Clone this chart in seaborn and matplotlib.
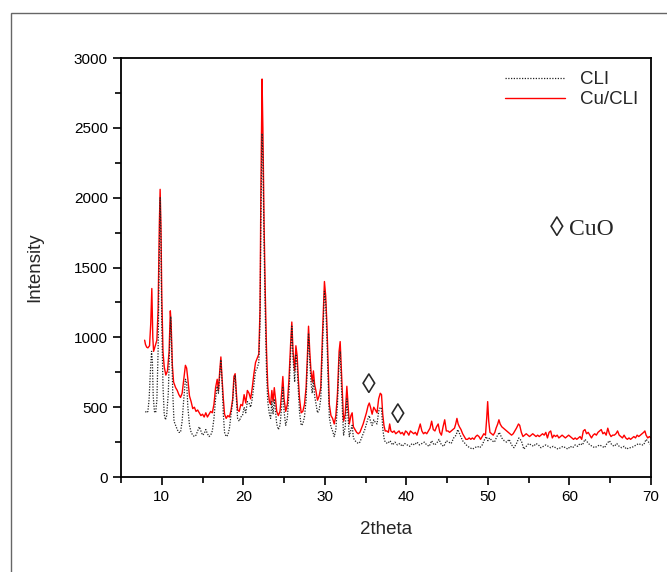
"""
XRD patterns of CLI and Cu/CLI, redrawn with seaborn.
"""

import matplotlib
matplotlib.use("Agg")
import matplotlib.pyplot as plt
from matplotlib.patches import Rectangle
from matplotlib.ticker import MultipleLocator
import pandas as pd
import seaborn as sn

# Cu/CLI pattern (red, solid)
cu_2theta = [
    7.9, 8.0, 8.15, 8.3, 8.5, 8.65, 8.78, 8.9, 9.0, 9.2, 9.4, 9.55, 9.7, 9.8, 9.9,
    10.0, 10.15, 10.3, 10.5, 10.7, 10.9, 11.05, 11.15, 11.3, 11.45, 11.7, 11.9,
    12.1, 12.3, 12.5, 12.7, 12.9, 13.05, 13.2, 13.4, 13.6, 13.8, 14.0, 14.2, 14.4,
    14.6, 14.8, 15.0, 15.2, 15.4, 15.6, 15.8, 16.0, 16.2, 16.4, 16.6, 16.8, 16.95,
    17.1, 17.25, 17.4, 17.55, 17.7, 17.9, 18.1, 18.3, 18.5, 18.7, 18.85, 19.0,
    19.15, 19.3, 19.5, 19.7, 19.9, 20.1, 20.3, 20.5, 20.7, 20.9, 21.1, 21.3, 21.5,
    21.7, 21.9, 22.05, 22.15, 22.3, 22.4, 22.55, 22.7, 22.85, 23.0, 23.2, 23.35,
    23.5, 23.65, 23.8, 23.95, 24.1, 24.3, 24.5, 24.7, 24.85, 25.0, 25.2, 25.4,
    25.6, 25.8, 25.95, 26.1, 26.3, 26.45, 26.6, 26.75, 26.9, 27.1, 27.3, 27.5,
    27.7, 27.85, 28.0, 28.15, 28.3, 28.45, 28.6, 28.75, 28.9, 29.1, 29.3, 29.5,
    29.7, 29.95, 30.1, 30.25, 30.4, 30.55, 30.75, 30.95, 31.15, 31.35, 31.55,
    31.75, 31.88, 32.0, 32.15, 32.3, 32.5, 32.7, 32.85, 33.0, 33.2, 33.35, 33.5,
    33.7, 33.9, 34.1, 34.3, 34.5, 34.7, 34.9, 35.1, 35.3, 35.45, 35.6, 35.8, 36.0,
    36.2, 36.4, 36.6, 36.8, 36.95, 37.1, 37.25, 37.4, 37.6, 37.8, 37.95, 38.1,
    38.3, 38.5, 38.7, 38.9, 39.1, 39.3, 39.5, 39.7, 39.9, 40.1, 40.3, 40.5, 40.7,
    40.9, 41.1, 41.3, 41.5, 41.7, 41.9, 42.1, 42.3, 42.5, 42.7, 42.9, 43.1, 43.3,
    43.5, 43.7, 43.9, 44.1, 44.3, 44.5, 44.7, 44.9, 45.1, 45.3, 45.5, 45.7, 45.9,
    46.05, 46.2, 46.35, 46.5, 46.7, 46.9, 47.1, 47.3, 47.5, 47.7, 47.9, 48.1, 48.3,
    48.5, 48.7, 48.9, 49.1, 49.3, 49.5, 49.7, 49.85, 49.97, 50.1, 50.25, 50.45,
    50.65, 50.85, 51.0, 51.2, 51.35, 51.5, 51.7, 51.9, 52.1, 52.3, 52.5, 52.7,
    52.9, 53.1, 53.3, 53.5, 53.75, 53.9, 54.1, 54.3, 54.5, 54.7, 54.9, 55.1, 55.3,
    55.5, 55.7, 55.9, 56.1, 56.3, 56.5, 56.7, 56.9, 57.1, 57.3, 57.5, 57.7, 57.9,
    58.1, 58.3, 58.5, 58.7, 58.9, 59.1, 59.3, 59.5, 59.7, 59.9, 60.1, 60.3, 60.5,
    60.7, 60.9, 61.1, 61.3, 61.5, 61.7, 61.9, 62.1, 62.3, 62.5, 62.7, 62.9, 63.1,
    63.3, 63.5, 63.7, 63.9, 64.1, 64.3, 64.5, 64.7, 64.9, 65.1, 65.3, 65.5, 65.7,
    65.9, 66.1, 66.3, 66.5, 66.7, 66.9, 67.1, 67.3, 67.5, 67.7, 67.9, 68.1, 68.3,
    68.5, 68.7, 68.9, 69.1, 69.25, 69.4, 69.6, 69.8, 70.0,
]
cu_intensity = [
    980, 950, 930, 925, 940, 1100, 1350, 1000, 900, 940, 980, 1200, 1800, 2060, 1800,
    1300, 900, 790, 730, 760, 900, 1190, 1100, 800, 680, 640, 620,
    590, 570, 600, 700, 800, 780, 700, 580, 540, 490, 500, 470, 480,
    460, 440, 450, 430, 460, 430, 450, 470, 460, 520, 640, 700, 620,
    750, 860, 700, 560, 450, 420, 440, 430, 480, 560, 720, 740,
    600, 480, 470, 520, 510, 590, 530, 620, 600, 560, 640, 740, 820,
    850, 880, 1200, 2000, 2850, 2500, 1800, 1300, 900, 650, 540, 520,
    620, 540, 640, 560, 470, 440, 470, 600, 720, 560, 470, 520,
    700, 950, 1110, 900, 760, 940, 870, 700, 560, 460, 470, 520,
    640, 850, 1080, 900, 760, 680, 760, 660, 620, 550, 580, 640,
    1000, 1400, 1300, 1100, 800, 520, 440, 420, 380, 440, 600,
    900, 970, 800, 600, 400, 450, 650, 520, 380, 440, 460, 360,
    340, 320, 310, 320, 350, 380, 420, 460, 510, 530, 500, 450, 500,
    480, 460, 560, 600, 590, 450, 370, 330, 330, 320, 380, 330,
    320, 330, 310, 320, 330, 310, 320, 300, 330, 320, 300, 330, 320,
    310, 320, 300, 340, 380, 330, 310, 320, 310, 330, 350, 400, 340,
    330, 360, 380, 320, 300, 360, 410, 330, 330, 320, 330, 340, 350,
    380, 420, 380, 360, 340, 310, 290, 270, 270, 280, 270, 280, 270,
    290, 300, 290, 270, 290, 310, 300, 420, 540, 400, 320, 310,
    300, 320, 350, 380, 410, 380, 360, 350, 340, 330, 320, 310,
    300, 310, 330, 350, 380, 370, 320, 290, 300, 310, 300, 290, 300,
    310, 300, 290, 300, 290, 300, 310, 300, 320, 280, 320, 330, 280,
    300, 290, 300, 280, 290, 300, 290, 280, 290, 300, 290, 280, 270,
    280, 270, 280, 290, 270, 330, 340, 310, 320, 300, 280, 300, 310,
    300, 320, 330, 340, 310, 320, 300, 350, 310, 290, 300, 300, 310,
    330, 300, 290, 280, 300, 280, 270, 280, 270, 280, 290, 280, 300,
    290, 300, 310, 320, 330, 300, 280, 290, 280,
]

# CLI pattern (black, dotted)
cli_2theta = [
    8.0, 8.15, 8.3, 8.45, 8.6, 8.75, 8.85, 8.95, 9.1, 9.25, 9.4, 9.55, 9.7, 9.8,
    9.9, 10.0, 10.15, 10.3, 10.45, 10.6, 10.8, 10.95, 11.1, 11.2, 11.35, 11.5,
    11.7, 11.9, 12.1, 12.3, 12.5, 12.7, 12.9, 13.05, 13.2, 13.4, 13.6, 13.8, 14.0,
    14.2, 14.4, 14.6, 14.8, 15.0, 15.2, 15.4, 15.6, 15.8, 16.0, 16.2, 16.4, 16.6,
    16.8, 16.95, 17.1, 17.25, 17.4, 17.55, 17.7, 17.9, 18.1, 18.3, 18.5, 18.7,
    18.85, 19.0, 19.15, 19.3, 19.5, 19.7, 19.9, 20.1, 20.3, 20.5, 20.7, 20.9, 21.1,
    21.3, 21.5, 21.7, 21.9, 22.05, 22.15, 22.3, 22.4, 22.55, 22.7, 22.85, 23.0,
    23.2, 23.35, 23.5, 23.65, 23.8, 23.95, 24.1, 24.3, 24.5, 24.7, 24.85, 25.0,
    25.2, 25.4, 25.6, 25.8, 25.95, 26.1, 26.3, 26.45, 26.6, 26.75, 26.9, 27.1,
    27.3, 27.5, 27.7, 27.85, 28.0, 28.15, 28.3, 28.45, 28.6, 28.75, 28.9, 29.1,
    29.3, 29.5, 29.7, 29.95, 30.1, 30.25, 30.4, 30.55, 30.75, 30.95, 31.15, 31.35,
    31.55, 31.75, 31.88, 32.0, 32.15, 32.3, 32.5, 32.7, 32.85, 33.0, 33.2, 33.35,
    33.5, 33.7, 33.9, 34.1, 34.3, 34.5, 34.7, 34.9, 35.1, 35.3, 35.45, 35.6, 35.8,
    36.0, 36.2, 36.4, 36.6, 36.8, 36.95, 37.1, 37.25, 37.4, 37.7, 38.0, 38.3,
    38.6, 38.9, 39.2, 39.5, 39.8, 40.1, 40.4, 40.7, 41.0, 41.3, 41.6, 41.9, 42.2,
    42.5, 42.8, 43.1, 43.4, 43.7, 44.0, 44.3, 44.6, 44.9, 45.2, 45.5, 45.8, 46.1,
    46.3, 46.6, 46.9, 47.2, 47.5, 47.8, 48.1, 48.4, 48.7, 49.0, 49.3, 49.6, 49.8,
    50.0, 50.2, 50.5, 50.8, 51.1, 51.4, 51.7, 52.0, 52.3, 52.6, 52.9, 53.2, 53.5,
    53.8, 54.1, 54.4, 54.7, 55.0, 55.3, 55.6, 55.9, 56.2, 56.5, 56.8, 57.1, 57.4,
    57.7, 58.0, 58.3, 58.6, 58.9, 59.2, 59.5, 59.8, 60.1, 60.4, 60.7, 61.0, 61.3,
    61.6, 61.9, 62.2, 62.5, 62.8, 63.1, 63.4, 63.7, 64.0, 64.3, 64.6, 64.9, 65.2,
    65.5, 65.8, 66.1, 66.4, 66.7, 67.0, 67.3, 67.6, 67.9, 68.2, 68.5, 68.8, 69.1,
    69.4, 69.7, 70.0,
]
cli_intensity = [
    470, 460, 470, 560, 750, 900, 830, 580, 470, 460, 550, 900, 1600, 2000,
    1700, 1100, 650, 450, 410, 440, 600, 900, 1150, 950, 600, 400,
    370, 340, 320, 320, 400, 560, 700, 680, 500, 370, 320, 300, 290,
    300, 330, 360, 330, 300, 310, 340, 310, 290, 300, 330, 420, 560,
    650, 600, 720, 840, 680, 450, 320, 290, 300, 350, 450, 540,
    680, 730, 560, 420, 400, 430, 440, 500, 460, 540, 530, 500, 560,
    660, 760, 780, 820, 1100, 1800, 2460, 2300, 1650, 1150, 750, 540,
    450, 420, 540, 450, 560, 470, 380, 340, 370, 500, 640, 470,
    370, 420, 600, 870, 1080, 850, 680, 880, 800, 620, 460, 370,
    380, 430, 550, 780, 1030, 830, 680, 600, 700, 580, 530, 460,
    480, 560, 900, 1330, 1250, 1000, 700, 430, 360, 330, 290, 340,
    520, 830, 900, 700, 480, 300, 360, 560, 420, 290, 340, 370,
    280, 260, 250, 240, 250, 280, 310, 340, 380, 420, 440, 400, 370,
    410, 390, 380, 470, 500, 490, 350, 280, 250, 240, 260, 230,
    250, 230, 240, 220, 240, 230, 220, 240, 230, 250, 230, 240, 250,
    230, 220, 260, 230, 240, 270, 230, 220, 260, 250, 240, 280, 300,
    340, 300, 260, 240, 220, 210, 200, 210, 220, 210, 230, 270, 290,
    260, 280, 260, 250, 290, 320, 280, 260, 250, 270, 230, 210, 240,
    280, 260, 200, 220, 240, 230, 220, 240, 230, 210, 220, 230, 220,
    210, 220, 210, 200, 210, 220, 210, 200, 220, 210, 230, 220, 240,
    230, 270, 250, 230, 220, 210, 220, 230, 220, 210, 240, 260, 230,
    220, 240, 220, 210, 220, 200, 210, 210, 220, 230, 240, 230, 230,
    270, 250, 230,
]

# CuO reflections marked on the pattern
cuo_2theta = [35.4, 38.9]
cuo_intensity = [650, 435]

cu_df = pd.DataFrame({"2theta": cu_2theta, "Intensity": cu_intensity})
cli_df = pd.DataFrame({"2theta": cli_2theta, "Intensity": cli_intensity})

sn.set_style("ticks")
plt.rcParams["font.family"] = ["Liberation Sans", "DejaVu Sans"]
serif = ["Liberation Serif", "DejaVu Serif"]

fig = plt.figure(figsize=(6.67, 5.72), dpi=100)
ax = fig.add_axes([0.1814, 0.166, 0.7946, 0.7325])

# gray frame around the whole panel
fig.patches.append(Rectangle((0.0165, -0.1), 1.2, 1.077, transform=fig.transFigure,
                             fill=False, edgecolor="#666666", linewidth=1.0))

sn.lineplot(data=cu_df, x="2theta", y="Intensity", ax=ax, color="#ff0000",
            linewidth=1.0, label="Cu/CLI", zorder=2, sort=False)
sn.lineplot(data=cli_df, x="2theta", y="Intensity", ax=ax, color="#222222",
            linewidth=0.9, linestyle=(0, (1, 1.2)), label="CLI", zorder=3, sort=False)

# diamond markers for CuO
for tt, inten in zip(cuo_2theta, cuo_intensity):
    ax.text(tt, inten, "\u25ca", ha="center", va="center", fontsize=20, family=serif)
ax.text(58.5, 1770, "\u25ca", ha="center", va="center", fontsize=20, family=serif)
ax.text(59.9, 1770, "CuO", ha="left", va="center", fontsize=17, family=serif)

ax.set_xlim(5, 70)
ax.set_ylim(0, 3000)
ax.xaxis.set_major_locator(MultipleLocator(10))
ax.xaxis.set_minor_locator(MultipleLocator(5))
ax.yaxis.set_major_locator(MultipleLocator(500))
ax.yaxis.set_minor_locator(MultipleLocator(250))
ax.tick_params(which="major", direction="out", length=6, width=1.2,
               labelsize=11, color="black", labelcolor="black")
ax.tick_params(which="minor", direction="out", length=4, width=1.2, color="black")
ax.tick_params(top=False, right=False, which="both")

for sp in ax.spines.values():
    sp.set_visible(True)
    sp.set_linewidth(1.3)
    sp.set_color("black")

ax.set_xlabel("2theta", fontsize=13.5, labelpad=12)
ax.set_ylabel("Intensity", fontsize=13.5, labelpad=22)

handles, labels = ax.get_legend_handles_labels()
order = [labels.index("CLI"), labels.index("Cu/CLI")]
ax.legend([handles[i] for i in order], [labels[i] for i in order],
          loc="upper right", frameon=False, fontsize=13.5, handlelength=3.2,
          borderaxespad=0.3, labelspacing=0.15)

fig.savefig("out.png", dpi=100)
plt.close(fig)
